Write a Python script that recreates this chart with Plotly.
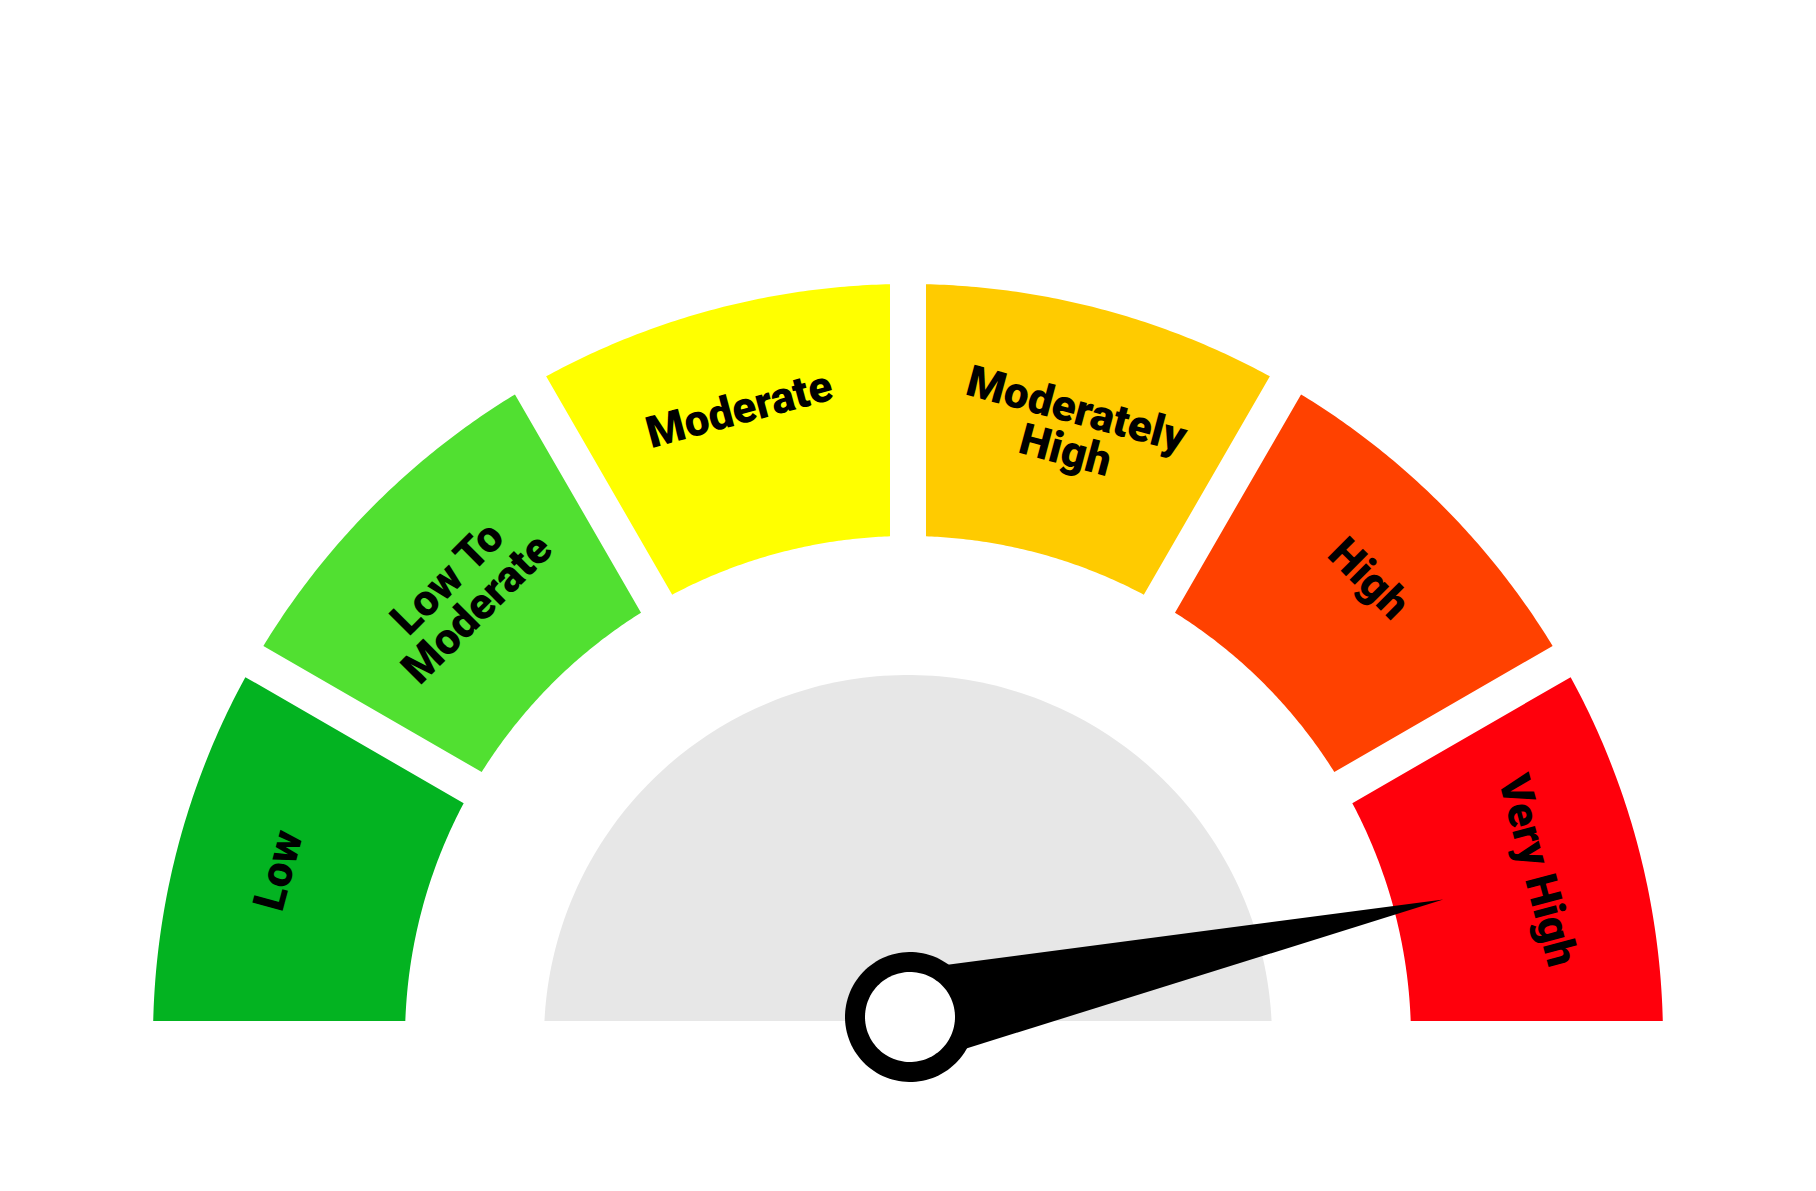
"""
Risk-o-meter style gauge: six coloured bands on a half ring, grey dial
and a needle pointing at the current risk level.
"""

import math

import numpy as np
import plotly.graph_objects as go


# ---------------------------------------------------------------------------
# Data
# ---------------------------------------------------------------------------

band_labels = ["Low", "Low To\nModerate", "Moderate",
               "Moderately\nHigh", "High", "Very High"]
band_breaks = [0, 16.67, 33.33, 50, 66.67, 83.33, 100]
needle_value = 93.1

# ---------------------------------------------------------------------------
# Styling / geometry (pixel units, 1 axis unit == 1 px)
# ---------------------------------------------------------------------------

BAND_COLORS = ["#03b321", "#51e031", "#ffff00", "#ffcb00", "#ff4100", "#ff000c"]
PAGE_W, PAGE_H = 1816, 1191
BODY_PAD = 8                 # default <body> margin of the html page
CX, CY = 908, 1039           # gauge centre in page pixels (from top-left)
R_OUT, R_IN = 755, 503       # coloured ring
R_DIAL = 364                 # grey dial
HALF_GAP = 18                # half of the white gap between bands
LABEL_R = 652
LINE_STEP = 42               # distance between label lines
NEEDLE_LEN = 546
NEEDLE_HALF_W = 47
HUB_X, HUB_Y = 2, 22         # needle pivot sits a little above the centre
HUB_R_OUT, HUB_R_IN = 65, 45
FONT = "Roboto"


def value_to_angle(v: float) -> float:
    """Map a gauge value to degrees (180 = left end, 0 = right end)."""
    lo, hi = band_breaks[0], band_breaks[-1]
    return 180.0 - (v - lo) / (hi - lo) * 180.0


def band_polygon(a_hi: float, a_lo: float, r_in: float, r_out: float,
                 d: float, n: int = 80):
    """Ring sector whose straight edges are offset inward by d px."""
    da_out = math.degrees(math.asin(d / r_out))
    da_in = math.degrees(math.asin(d / r_in))
    outer = np.radians(np.linspace(a_hi - da_out, a_lo + da_out, n))
    inner = np.radians(np.linspace(a_lo + da_in, a_hi - da_in, n))
    xs = np.concatenate([r_out * np.cos(outer), r_in * np.cos(inner)])
    ys = np.concatenate([r_out * np.sin(outer), r_in * np.sin(inner)])
    return np.append(xs, xs[0]), np.append(ys, ys[0])


fig = go.Figure()

# grey dial, cut at the same baseline as the bands
a0 = math.degrees(math.asin(HALF_GAP / R_DIAL))
t = np.radians(np.linspace(a0, 180 - a0, 160))
fig.add_trace(go.Scatter(
    x=R_DIAL * np.cos(t), y=R_DIAL * np.sin(t),
    fill="toself", fillcolor="#e7e7e7", mode="none",
    hoverinfo="skip", showlegend=False,
))

# coloured bands + labels
for i, label in enumerate(band_labels):
    a_hi = value_to_angle(band_breaks[i])
    a_lo = value_to_angle(band_breaks[i + 1])
    xs, ys = band_polygon(a_hi, a_lo, R_IN, R_OUT, HALF_GAP)
    fig.add_trace(go.Scatter(
        x=xs, y=ys, fill="toself", fillcolor=BAND_COLORS[i], mode="none",
        name=label.replace("\n", " "), hoverinfo="name", showlegend=False,
    ))

    # one annotation per line, stacked towards the centre
    mid = (a_hi + a_lo) / 2
    for k, line in enumerate(label.split("\n")):
        r = LABEL_R - k * LINE_STEP
        fig.add_annotation(
            x=r * math.cos(math.radians(mid)), y=r * math.sin(math.radians(mid)),
            text=line, showarrow=False, textangle=90 - mid,
            xanchor="center", yanchor="middle",
            font=dict(family=FONT, size=44, color="black", weight=900),
        )

# needle: triangle from the hub to the tip
ang = math.radians(value_to_angle(needle_value))
ux, uy = math.cos(ang), math.sin(ang)
nx, ny = -uy, ux
fig.add_trace(go.Scatter(
    x=[HUB_X + NEEDLE_HALF_W * nx, HUB_X + ux * NEEDLE_LEN,
       HUB_X - NEEDLE_HALF_W * nx, HUB_X + NEEDLE_HALF_W * nx],
    y=[HUB_Y + NEEDLE_HALF_W * ny, HUB_Y + uy * NEEDLE_LEN,
       HUB_Y - NEEDLE_HALF_W * ny, HUB_Y + NEEDLE_HALF_W * ny],
    fill="toself", fillcolor="black", mode="none",
    hoverinfo="skip", showlegend=False,
))

# hub ring
for r, col in [(HUB_R_OUT, "black"), (HUB_R_IN, "white")]:
    tt = np.radians(np.linspace(0, 360, 120))
    fig.add_trace(go.Scatter(
        x=HUB_X + r * np.cos(tt), y=HUB_Y + r * np.sin(tt),
        fill="toself", fillcolor=col, mode="none",
        hoverinfo="skip", showlegend=False,
    ))

# figure sits inside the body margin; keep 1 axis unit == 1 page pixel
fig_w, fig_h = PAGE_W - 2 * BODY_PAD, PAGE_H - 2 * BODY_PAD
fig.update_layout(
    width=fig_w, height=fig_h,
    margin=dict(l=0, r=0, t=0, b=0),
    paper_bgcolor="white", plot_bgcolor="white",
    xaxis=dict(range=[BODY_PAD - CX, BODY_PAD + fig_w - CX],
               visible=False, fixedrange=True),
    yaxis=dict(range=[CY - BODY_PAD - fig_h, CY - BODY_PAD],
               visible=False, fixedrange=True),
)

fig.write_html("out.html")
